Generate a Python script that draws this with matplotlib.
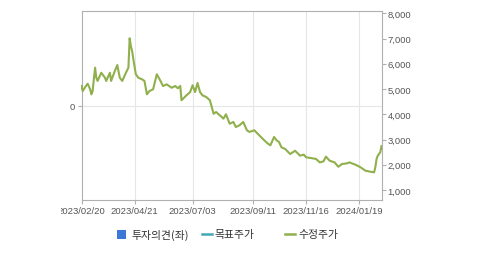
import matplotlib
matplotlib.use('Agg')
import matplotlib.pyplot as plt
from matplotlib.lines import Line2D
from matplotlib.patches import Rectangle
from matplotlib.ticker import FuncFormatter
from matplotlib.transforms import Bbox

# trading-day number (0 = 2023/02/20) and adjusted price
day = [0, 1, 3, 5, 7, 8, 9, 11, 12, 13, 16, 19, 20, 23, 24, 27, 29, 31, 33, 36,
       38, 39, 40, 41, 42, 44, 46, 49, 51, 53, 55, 58, 61, 64, 66, 69, 73, 76, 78, 80,
       81, 85, 88, 90, 92, 94, 96, 98, 101, 104, 107, 109, 112, 115, 117, 120, 123, 125, 128, 131,
       134, 136, 140, 144, 148, 151, 153, 156, 158, 160, 162, 165, 169, 173, 177, 180, 182, 186, 190, 193,
       196, 198, 201, 205, 208, 211, 215, 217, 222, 226, 230, 234, 237, 238, 239, 240, 242, 243]
price = [5120, 4920, 5080, 5210, 4990, 4790, 4920, 5845, 5450, 5320, 5645, 5450, 5320, 5645, 5320, 5715, 5950, 5450, 5320, 5645,
         5845, 7010, 6700, 6505, 6180, 5585, 5450, 5385, 5320, 4790, 4920, 4990, 5585, 5320, 5120, 5185, 5050, 5120, 5030, 5120,
         4555, 4750, 4880, 5150, 4880, 5240, 4880, 4750, 4685, 4555, 4020, 4090, 3960, 3825, 4000, 3625, 3695, 3495, 3565, 3695,
         3365, 3300, 3365, 3165, 2970, 2835, 2770, 3100, 2970, 2900, 2690, 2625, 2425, 2555, 2360, 2400, 2295, 2265, 2230, 2095,
         2135, 2320, 2160, 2095, 1920, 2030, 2055, 2095, 2000, 1900, 1765, 1725, 1700, 1900, 2230, 2360, 2495, 2740]

tick_days = [0, 43, 90, 139, 182, 225]
tick_labels = ['2023/02/20', '2023/04/21', '2023/07/03', '2023/09/11', '2023/11/16', '2024/01/19']
right_ticks = [1000, 2000, 3000, 4000, 5000, 6000, 7000, 8000]

green = '#8fb04c'
grey = '#b0b0b0'
text_c = '#555555'

fig = plt.figure(figsize=(4.79, 2.55), dpi=100)
ax = fig.add_axes([81.5 / 479, 1 - 201 / 255, 300 / 479, 189 / 255])
ax2 = ax.twinx()

# left axis (투자의견) has only the zero line
ax.set_ylim(-1, 1)
ax.set_yticks([0])
ax.set_yticklabels(['0'])
ax.axhline(0, color='#e6e6e6', lw=0.8, zorder=0)
ax.set_xlim(0, 243)
ax.set_xticks(tick_days, tick_labels)
for d in tick_days[1:]:
    ax.axvline(d, color='#e6e6e6', lw=0.8, zorder=0)

ax2.plot(day, price, color=green, lw=1.5)
ax2.set_ylim(604, 8091)
ax2.set_yticks(right_ticks)
ax2.yaxis.set_major_formatter(FuncFormatter(lambda v, p: f'{int(v):,}'))

for s in ax.spines.values():
    s.set_color(grey)
    s.set_linewidth(0.8)
for s in ax2.spines.values():
    s.set_visible(False)
for a in (ax, ax2):
    a.tick_params(colors=grey, labelcolor=text_c, labelsize=6.8, length=3, width=0.8, pad=1.5)
    for lab in a.get_xticklabels() + a.get_yticklabels():
        lab.set_fontfamily('Liberation Sans')

# the first date label is cut at the left, as in the source page
clip = Bbox([[61, 0], [479, 255]])
for t in ax.xaxis.get_major_ticks():
    t.label1.set_clip_on(True)
    t.label1.set_clip_box(clip)

# legend
kfont = ['Noto Sans CJK KR', 'DejaVu Sans']
fig.add_artist(Rectangle((117 / 479, 1 - 239.5 / 255), 9 / 479, 9 / 255,
                         transform=fig.transFigure, color='#3b78d8', lw=0))
fig.text(131 / 479, 1 - 235 / 255, '투자의견(좌)', family=kfont, fontsize=7.8, color='#333333', va='center')
fig.add_artist(Line2D([202 / 479, 212 / 479], [1 - 235 / 255] * 2, transform=fig.transFigure,
                      color='#45a6b8', lw=1.8))
fig.text(214 / 479, 1 - 235 / 255, '목표주가', family=kfont, fontsize=7.8, color='#333333', va='center')
fig.add_artist(Line2D([285 / 479, 295 / 479], [1 - 235 / 255] * 2, transform=fig.transFigure,
                      color=green, lw=1.8))
fig.text(298 / 479, 1 - 235 / 255, '수정주가', family=kfont, fontsize=7.8, color='#333333', va='center')

fig.savefig('out.png', dpi=100)
